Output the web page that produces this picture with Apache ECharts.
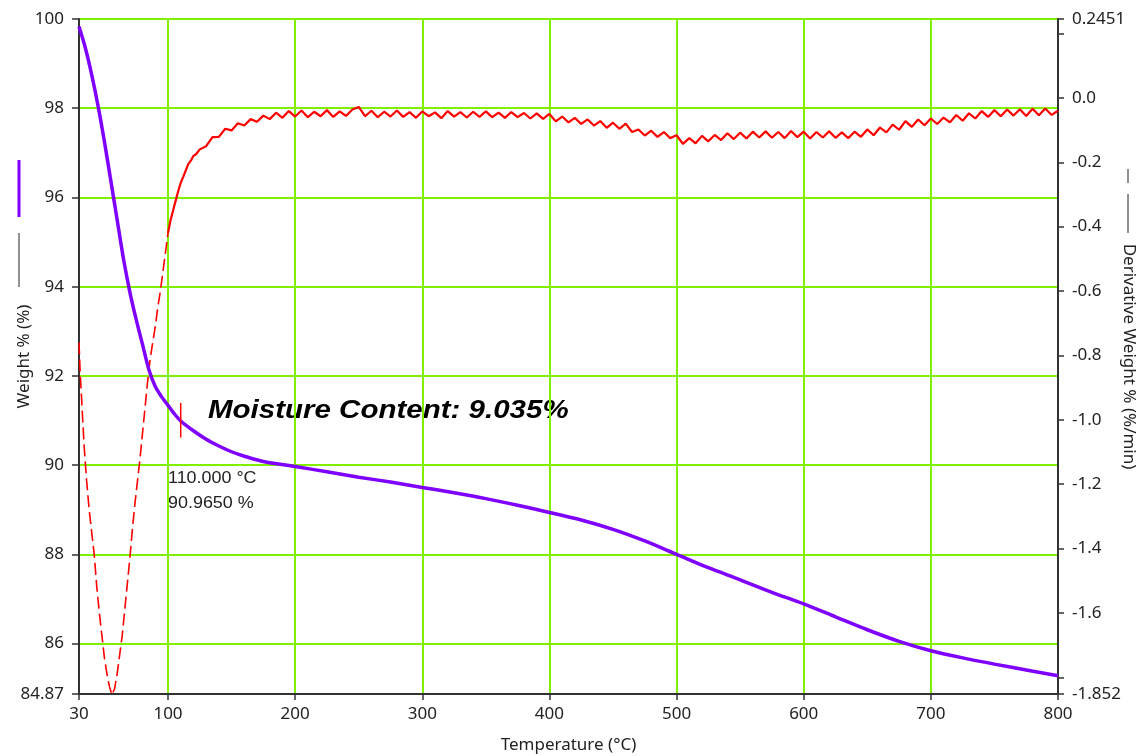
<!DOCTYPE html>
<html>
<head>
<meta charset="utf-8">
<title>TGA moisture</title>
<script src="https://cdn.jsdelivr.net/npm/echarts@6/dist/echarts.min.js"></script>
<style>
    html, body { margin: 0; padding: 0; background: #fff; }
    #main { width: 1144px; height: 756px; }
</style>
</head>
<body>
<div id="main"></div>
<script>
// weight curve (left axis)
const weightTemps = [30, 35, 40, 45, 50, 55, 60, 65, 70, 75, 80, 85, 90, 95, 100, 105, 110, 120, 130, 140, 150, 160, 175,
    200, 225, 250, 275, 300, 325, 350, 375, 400, 425, 450, 475, 500, 525, 550, 575, 600, 625, 650, 675, 700, 725, 750, 775, 800];
const weightValues = [99.83, 99.35, 98.75, 98.05, 97.25, 96.38, 95.5, 94.62, 93.88, 93.26, 92.7, 92.14, 91.76, 91.53, 91.34, 91.15, 90.99, 90.77, 90.58, 90.43, 90.3, 90.2, 90.08,
    89.97, 89.85, 89.73, 89.62, 89.5, 89.38, 89.25, 89.1, 88.94, 88.77, 88.56, 88.3, 88.0, 87.7, 87.43, 87.15, 86.89, 86.6, 86.31, 86.05, 85.84, 85.68, 85.54, 85.41, 85.28];

// derivative, steep moisture peak (drawn dashed like the original)
const derivPeakTemps = [30, 31, 32, 34, 36, 38, 40, 42, 44, 46, 48, 50, 52, 54, 56, 58, 60, 62, 64, 66, 68, 70,
    72, 74, 76, 78, 80, 82, 84, 86, 88, 90, 92, 94, 96, 98, 100];
const derivPeakValues = [-0.76, -0.86, -0.93, -1.08, -1.19, -1.28, -1.35, -1.42, -1.52, -1.6, -1.67, -1.74, -1.79, -1.83, -1.855, -1.835, -1.79, -1.73, -1.67, -1.59, -1.51, -1.43,
    -1.34, -1.26, -1.19, -1.12, -1.04, -0.96, -0.88, -0.81, -0.76, -0.71, -0.65, -0.6, -0.54, -0.48, -0.42];

// derivative after the peak
const derivTailTemps = [100, 102, 104, 106, 108, 110, 112, 114, 116, 118, 120, 122, 125];
const derivTailValues = [-0.42, -0.38, -0.35, -0.32, -0.29, -0.264, -0.245, -0.225, -0.205, -0.195, -0.18, -0.175, -0.16];

// derivative 130..800 C, one reading every 5 C
const derivFlatStart = 130;
const derivFlatStep = 5;
const derivFlatValues = [
    -0.150, -0.122, -0.121, -0.096, -0.101, -0.079, -0.086, -0.066, -0.074, -0.055,
    -0.066, -0.046, -0.062, -0.041, -0.058, -0.039, -0.060, -0.043, -0.057, -0.038,
    -0.059, -0.042, -0.056, -0.036, -0.028, -0.057, -0.040, -0.060, -0.043, -0.058,
    -0.039, -0.059, -0.044, -0.062, -0.042, -0.057, -0.045, -0.063, -0.041, -0.058,
    -0.044, -0.061, -0.043, -0.059, -0.042, -0.060, -0.046, -0.062, -0.044, -0.060,
    -0.047, -0.064, -0.048, -0.065, -0.050, -0.073, -0.058, -0.076, -0.062, -0.081,
    -0.067, -0.086, -0.072, -0.093, -0.077, -0.096, -0.080, -0.106, -0.098, -0.117,
    -0.102, -0.121, -0.106, -0.125, -0.116, -0.143, -0.125, -0.141, -0.118, -0.135,
    -0.115, -0.131, -0.110, -0.128, -0.108, -0.126, -0.105, -0.123, -0.104, -0.124,
    -0.106, -0.125, -0.103, -0.122, -0.105, -0.126, -0.106, -0.123, -0.104, -0.124,
    -0.107, -0.125, -0.105, -0.121, -0.098, -0.116, -0.092, -0.107, -0.083, -0.099,
    -0.072, -0.090, -0.067, -0.085, -0.064, -0.081, -0.061, -0.076, -0.053, -0.071,
    -0.048, -0.064, -0.041, -0.059, -0.038, -0.057, -0.036, -0.055, -0.035, -0.056,
    -0.034, -0.054, -0.033, -0.053, -0.040
];

// step marker at 110 C
const markerTemp = 110;
const markerRange = [91.39, 90.62];

// axis ticks
const tempTicks = [30, 100, 200, 300, 400, 500, 600, 700, 800];
const weightTicks = [84.87, 86, 88, 90, 92, 94, 96, 98, 100];
const derivTicks = [-1.852, -1.8, -1.6, -1.4, -1.2, -1.0, -0.8, -0.6, -0.4, -0.2, 0.0, 0.2, 0.2451];
const derivLabels = [-1.852, -1.6, -1.4, -1.2, -1.0, -0.8, -0.6, -0.4, -0.2, 0.0, 0.2451];

function pairs(xs, ys) {
    return xs.map(function (x, i) { return [x, ys[i]]; });
}

const derivTail = pairs(derivTailTemps, derivTailValues);
derivFlatValues.forEach(function (v, i) {
    derivTail.push([derivFlatStart + i * derivFlatStep, v]);
});

const font = "'Noto Sans', 'Liberation Sans', Arial, sans-serif";
const axisColor = "#333";
const gridColor = "#80f000";

const chart = echarts.init(document.getElementById("main"));
const option = {
    animation: false,
    backgroundColor: "#fff",
    textStyle: { fontFamily: font },
    grid: { left: 79, right: 86, top: 19, bottom: 62, containLabel: false, outerBoundsMode: "none" },
    xAxis: {
        type: "value",
        min: 30,
        max: 800,
        name: "Temperature (°C)",
        nameLocation: "middle",
        nameGap: 43,
        nameMoveOverlap: false,
        nameTextStyle: { fontSize: 17, color: "#222", fontFamily: font },
        axisLine: { show: true, onZero: false, lineStyle: { color: axisColor, width: 2 } },
        axisTick: { show: true, length: 6, customValues: tempTicks, lineStyle: { color: axisColor, width: 1.5 } },
        axisLabel: { customValues: tempTicks, margin: 12, fontSize: 17, color: "#222", fontFamily: font },
        splitLine: { show: true, showMinLine: false, showMaxLine: false, lineStyle: { color: gridColor, width: 2 } }
    },
    yAxis: [
        {
            type: "value",
            position: "left",
            min: 84.87,
            max: 100,
            name: "Weight % (%)",
            nameLocation: "middle",
            nameRotate: 90,
            nameGap: 46,
            nameMoveOverlap: false,
            nameTextStyle: { fontSize: 17, color: "#222", fontFamily: font },
            axisLine: { show: true, onZero: false, lineStyle: { color: axisColor, width: 2 } },
            axisTick: { show: true, length: 7, customValues: weightTicks, lineStyle: { color: axisColor, width: 1.5 } },
            axisLabel: { customValues: weightTicks, margin: 15, fontSize: 17, color: "#222", fontFamily: font },
            splitLine: { show: true, showMinLine: false, showMaxLine: true, lineStyle: { color: gridColor, width: 2 } }
        },
        {
            type: "value",
            position: "right",
            min: -1.852,
            max: 0.2451,
            name: "Derivative Weight % (%/min)",
            nameLocation: "middle",
            nameRotate: -90,
            nameGap: 62,
            nameMoveOverlap: false,
            nameTextStyle: { fontSize: 17, color: "#222", fontFamily: font },
            axisLine: { show: true, onZero: false, lineStyle: { color: axisColor, width: 2 } },
            axisTick: { show: true, length: 6, customValues: derivTicks, lineStyle: { color: axisColor, width: 1.5 } },
            axisLabel: {
                customValues: derivLabels,
                margin: 14,
                fontSize: 17,
                color: "#222",
                fontFamily: font,
                formatter: function (v) {
                    if (Math.abs(v - 0.2451) < 1e-6 || Math.abs(v + 1.852) < 1e-6) return String(v);
                    return v.toFixed(1);
                }
            },
            splitLine: { show: false }
        }
    ],
    series: [
        {
            name: "deriv peak",
            type: "line",
            yAxisIndex: 1,
            showSymbol: false,
            lineStyle: { color: "#ff0000", width: 1.6, type: [12, 5] },
            data: pairs(derivPeakTemps, derivPeakValues),
            z: 2
        },
        {
            name: "deriv",
            type: "line",
            yAxisIndex: 1,
            showSymbol: false,
            lineStyle: { color: "#ff0000", width: 2.2 },
            data: derivTail,
            z: 2
        },
        {
            name: "weight",
            type: "line",
            yAxisIndex: 0,
            showSymbol: false,
            smooth: 0.3,
            lineStyle: { color: "#8000ff", width: 3.5 },
            data: pairs(weightTemps, weightValues),
            z: 3
        },
        {
            name: "marker",
            type: "line",
            yAxisIndex: 0,
            showSymbol: false,
            lineStyle: { color: "#ff0000", width: 1.5 },
            data: [[markerTemp, markerRange[0]], [markerTemp, markerRange[1]]],
            z: 4
        }
    ],
    graphic: [
        // series swatches next to the axis titles
        { type: "line", shape: { x1: 19, y1: 160, x2: 19, y2: 217 }, style: { stroke: "#8000ff", lineWidth: 3 } },
        { type: "line", shape: { x1: 19, y1: 233, x2: 19, y2: 287 }, style: { stroke: "#222", lineWidth: 1 } },
        { type: "line", shape: { x1: 1128, y1: 169, x2: 1128, y2: 183 }, style: { stroke: "#222", lineWidth: 1 } },
        { type: "line", shape: { x1: 1128, y1: 194, x2: 1128, y2: 233 }, style: { stroke: "#222", lineWidth: 1 } },
        {
            type: "text", x: 208, y: 411, scaleX: 1.18,
            style: {
                text: "Moisture Content: 9.035%", fill: "#000", verticalAlign: "middle",
                fontSize: 25, fontWeight: "bold", fontStyle: "italic", fontFamily: "'Liberation Sans', Arial, sans-serif"
            }
        },
        {
            type: "text", x: 168, y: 479, scaleX: 1.12,
            style: { text: "110.000 °C", fill: "#222", verticalAlign: "middle", fontSize: 16, fontFamily: "'Liberation Sans', Arial, sans-serif" }
        },
        {
            type: "text", x: 168, y: 504, scaleX: 1.12,
            style: { text: "90.9650 %", fill: "#222", verticalAlign: "middle", fontSize: 16, fontFamily: "'Liberation Sans', Arial, sans-serif" }
        }
    ]
};
chart.setOption(option);
</script>
</body>
</html>
